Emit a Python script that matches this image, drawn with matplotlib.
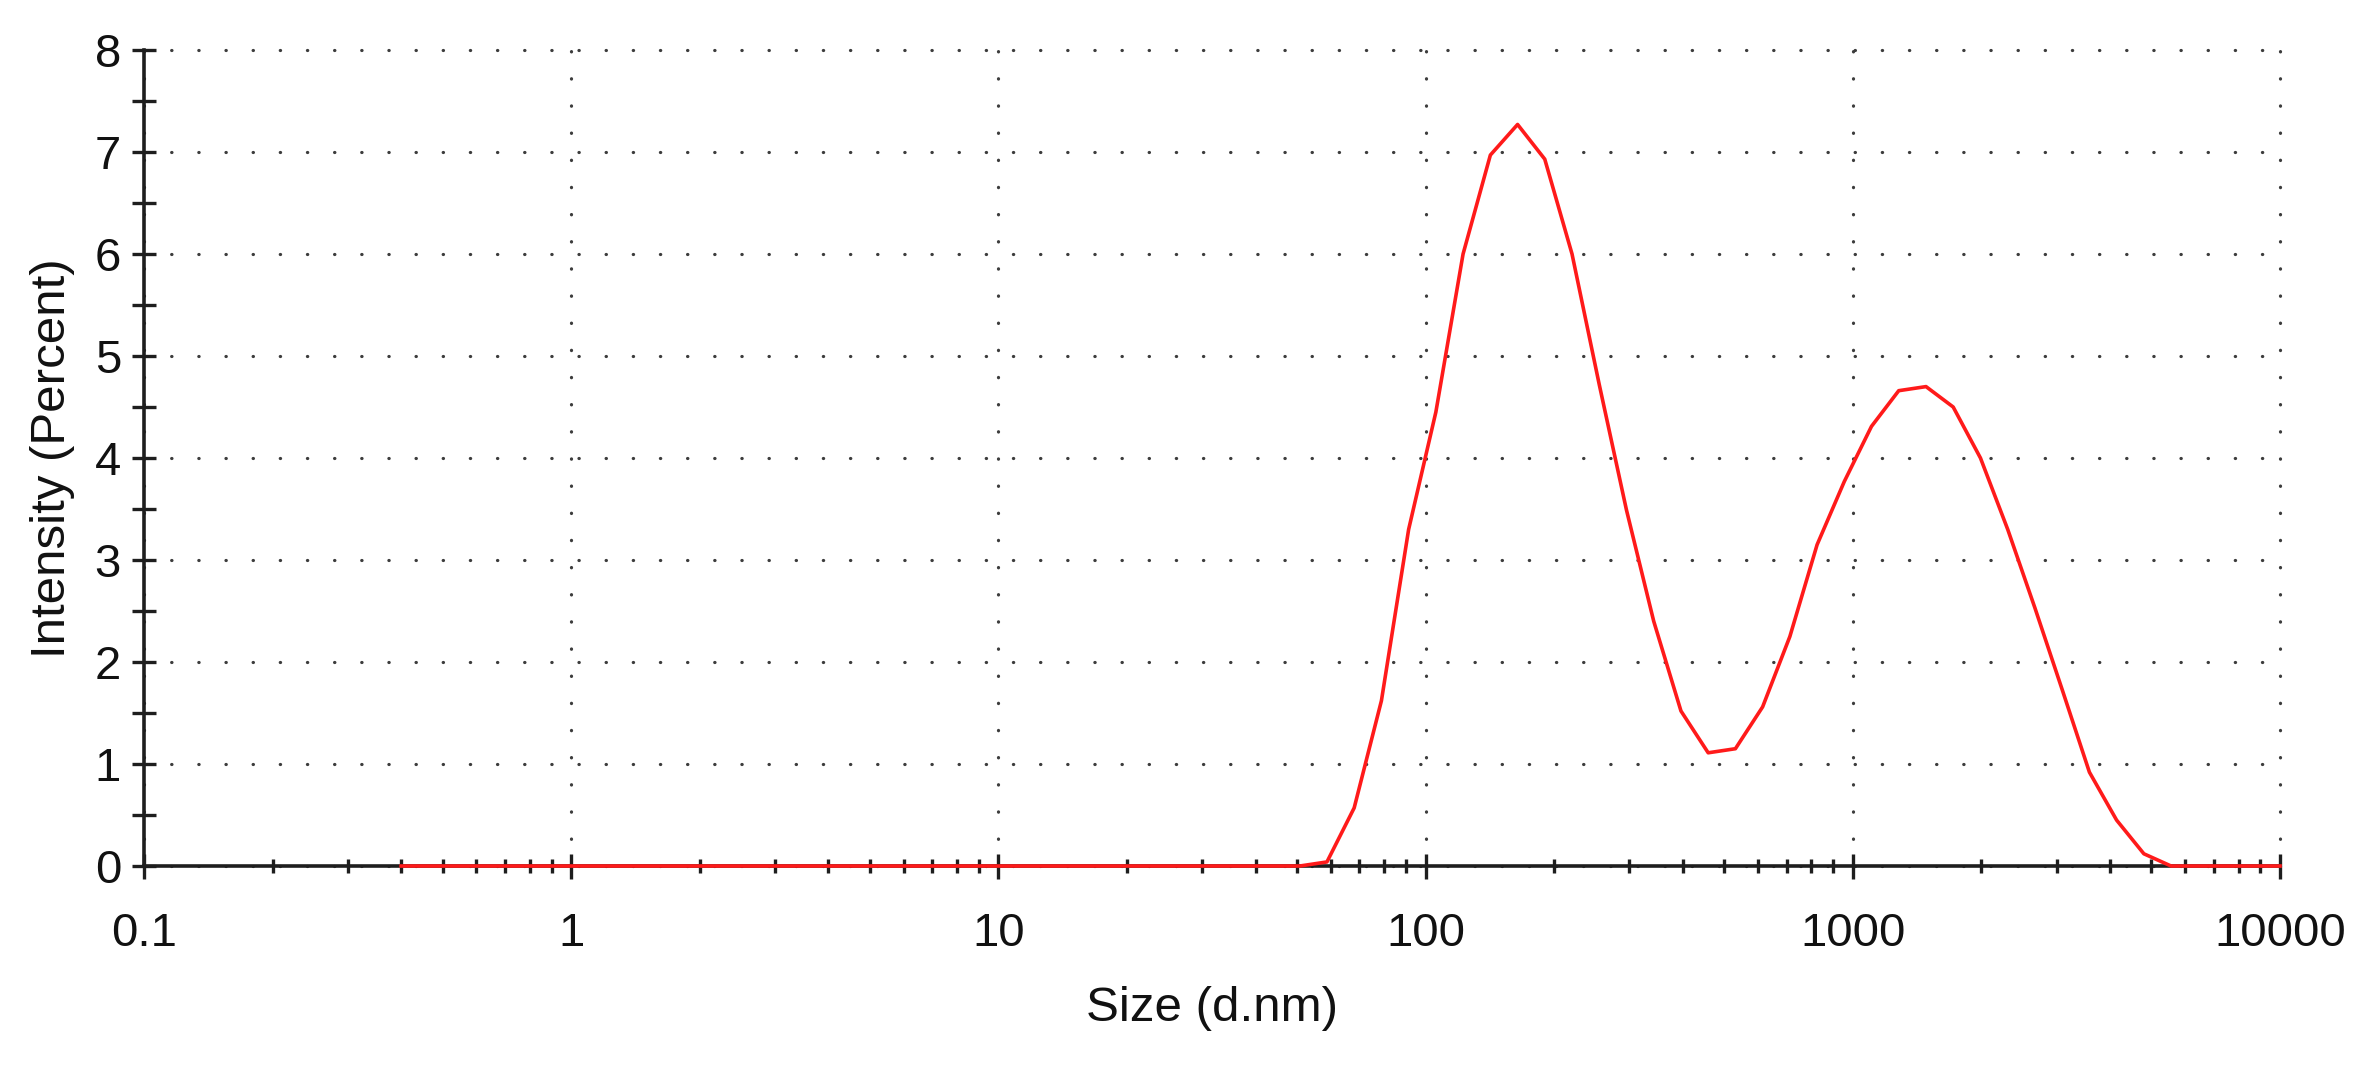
import matplotlib
matplotlib.use("Agg")
import matplotlib.pyplot as plt
from matplotlib.ticker import FixedLocator, NullFormatter, MultipleLocator

# size bins (d.nm)
sizes = [0.4, 0.4632, 0.5365, 0.6213, 0.7195, 0.8332, 0.9649, 1.117, 1.294, 1.499,
         1.736, 2.01, 2.328, 2.696, 3.122, 3.615, 4.187, 4.849, 5.615, 6.503,
         7.531, 8.721, 10.1, 11.7, 13.54, 15.69, 18.17, 21.04, 24.36, 28.21,
         32.67, 37.84, 43.82, 50.75, 58.77, 68.06, 78.82, 91.28, 105.7, 122.4,
         141.8, 164.2, 190.1, 220.2, 255.0, 295.3, 342.0, 396.1, 458.7, 531.2,
         615.1, 712.4, 825.0, 955.4, 1106, 1281, 1484, 1718, 1990, 2305,
         2669, 3091, 3580, 4145, 4801, 5560, 6439, 7456, 8635, 10000]

# intensity (percent)
intensity = [0, 0, 0, 0, 0, 0, 0, 0, 0, 0,
             0, 0, 0, 0, 0, 0, 0, 0, 0, 0,
             0, 0, 0, 0, 0, 0, 0, 0, 0, 0,
             0, 0, 0, 0, 0.04, 0.57, 1.62, 3.3, 4.45, 6.0,
             6.97, 7.27, 6.93, 6.0, 4.72, 3.49, 2.4, 1.52, 1.11, 1.15,
             1.56, 2.25, 3.15, 3.77, 4.31, 4.66, 4.70, 4.5, 4.0, 3.3,
             2.53, 1.73, 0.92, 0.45, 0.12, 0.0, 0, 0, 0, 0]

x_ticks = [0.1, 1, 10, 100, 1000, 10000]
x_tick_labels = ["0.1", "1", "10", "100", "1000", "10000"]
y_ticks = [0, 1, 2, 3, 4, 5, 6, 7, 8]

plt.rcParams['font.family'] = ['Liberation Sans', 'DejaVu Sans']
TXT = '#111111'
AX = '#1e1e1e'

fig = plt.figure(figsize=(23.75, 10.66), dpi=100)
ax = fig.add_axes([0.0606, 0.1876, 0.8994, 0.7655])

ax.plot(sizes, intensity, color='#ff1a1a', lw=2.6, zorder=5, clip_on=False)

ax.set_xscale('log')
ax.set_xlim(0.1, 10000)
ax.set_ylim(0, 8)

# spines
for s in ['top', 'right']:
    ax.spines[s].set_visible(False)
for s in ['left', 'bottom']:
    ax.spines[s].set_linewidth(2.6)
    ax.spines[s].set_color(AX)

# ticks
ax.xaxis.set_major_locator(FixedLocator(x_ticks))
ax.set_xticklabels(x_tick_labels)
minor = [m * 10.0 ** e for e in range(-1, 4) for m in range(2, 10)]
ax.xaxis.set_minor_locator(FixedLocator(minor))
ax.xaxis.set_minor_formatter(NullFormatter())
ax.set_yticks(y_ticks)
ax.yaxis.set_minor_locator(MultipleLocator(0.5))

ax.tick_params(axis='x', which='major', direction='inout', length=18, width=2.4,
               color=AX, labelsize=34, labelcolor=TXT, pad=24)
ax.tick_params(axis='x', which='minor', direction='inout', length=10, width=2.4,
               color=AX)
ax.tick_params(axis='y', which='both', direction='inout', length=17, width=2.4,
               color=AX, labelsize=34, labelcolor=TXT, pad=8)

# dotted grid
ax.grid(True, which='major', color='#3c3c3c', lw=2.3,
        linestyle=(0, (0.1, 8.4)), dash_capstyle='round')
for gl in ax.get_xgridlines() + ax.get_ygridlines():
    gl.set_clip_on(False)

ax.set_xlabel("Size (d.nm)", fontsize=35.5, color=TXT, labelpad=22)
ax.set_ylabel("Intensity (Percent)", fontsize=35.5, color=TXT, labelpad=14)

fig.savefig("out.png", dpi=100, facecolor='white')
